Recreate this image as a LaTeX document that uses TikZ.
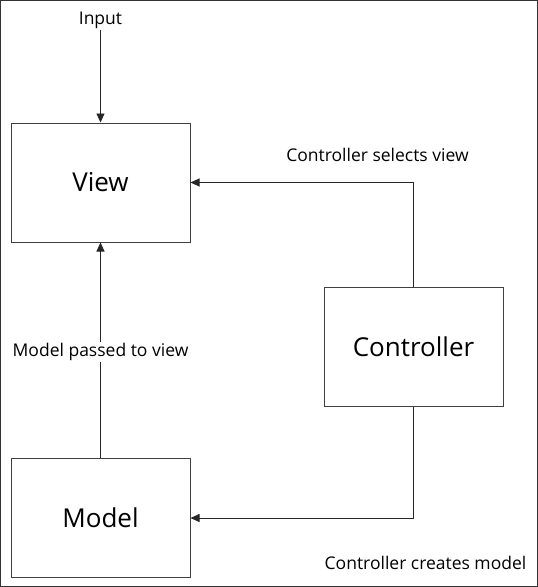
\documentclass[tikz,border=0pt]{standalone}
\usepackage{fontspec}
\setmainfont{Open Sans}
\usetikzlibrary{arrows.meta}
\begin{document}
\begin{tikzpicture}[x=1pt,y=-1pt,
  box/.style={draw=black!75,line width=1pt,minimum width=179pt,minimum height=119pt,inner sep=0pt,font=\fontsize{26}{30}\selectfont},
  lbl/.style={font=\fontsize{17.5}{21}\selectfont,inner sep=1pt},
  conn/.style={draw=black!85,line width=0.9pt,-{Triangle[length=9pt,width=8pt]}}]
\useasboundingbox (0,0) rectangle (538,587);
\draw[black!80,line width=1.2pt] (0.6,0.6) rectangle (537.4,586.4);
\node[box] (view) at (100.5,182.5) {View};
\node[box] (model) at (100.5,518) {Model};
\node[box] (ctrl) at (413.5,347) {Controller};
\node[lbl] (input) at (100.5,20) {Input};
\draw[conn] (input.south) -- (view.north);
\draw[conn] (model.north) -- (view.south);
\node[lbl,fill=white] (mp) at (100.5,352) {Model passed to view};
\draw[conn] (ctrl.north) |- (view.east);
\draw[conn] (ctrl.south) |- (model.east);
\node[lbl] (sel) at (377.5,155) {Controller selects view};
\node[lbl] (cre) at (425.5,563) {Controller creates model};
\end{tikzpicture}
\end{document}
